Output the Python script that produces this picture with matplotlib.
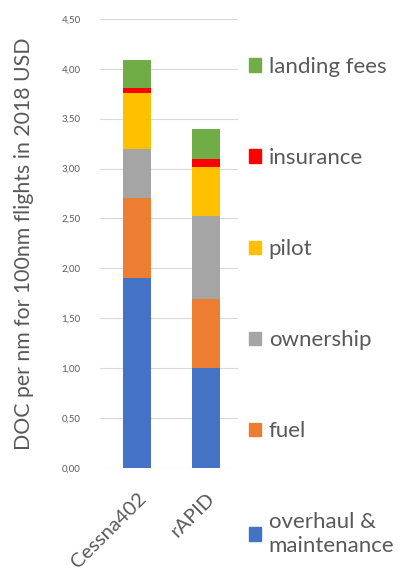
import matplotlib.pyplot as plt
import numpy as np
from matplotlib.patches import Patch
from matplotlib.transforms import ScaledTranslation

plt.rcParams['font.family'] = ['Lato', 'DejaVu Sans']

aircraft = ["Cessna402", "rAPID"]
categories = ["overhaul &\nmaintenance", "fuel", "ownership", "pilot", "insurance", "landing fees"]
overhaul = [1.90, 1.00]
fuel = [0.80, 0.69]
ownership = [0.50, 0.83]
pilot = [0.56, 0.50]
insurance = [0.05, 0.08]
landing = [0.28, 0.30]
colors = ["#4472C4", "#ED7D31", "#A5A5A5", "#FFC000", "#FF0000", "#70AD47"]
yticks = [0, 0.5, 1.0, 1.5, 2.0, 2.5, 3.0, 3.5, 4.0, 4.5]

fig = plt.figure(figsize=(4, 5.72), dpi=100)
ax = fig.add_axes([0.25, 0.182, 0.345, 0.785])

x = np.arange(len(aircraft))
bottom = np.zeros(len(aircraft))
for vals, c in zip([overhaul, fuel, ownership, pilot, insurance, landing], colors):
    ax.bar(x, vals, width=0.41, bottom=bottom, color=c, zorder=3)
    bottom += np.array(vals)

ax.set_ylim(0, 4.5)
ax.set_xlim(-0.54, 1.46)
ax.set_yticks(yticks)
ax.set_yticklabels([f"{v:.2f}".replace(".", ",") for v in yticks], fontsize=7, color="#595959")
ax.set_xticks(x)
ax.set_xticklabels(aircraft, rotation=45, ha="right", rotation_mode="anchor",
                   fontsize=14.5, color="#595959")
# nudge rotated labels a little to the right
for lbl in ax.get_xticklabels():
    lbl.set_transform(lbl.get_transform() + ScaledTranslation(0.03, 0, fig.dpi_scale_trans))
ax.tick_params(axis="y", length=0, pad=14)
ax.tick_params(axis="x", length=0, pad=16)
ax.grid(axis="y", color="#D9D9D9", linewidth=0.8, zorder=0)
for s in ax.spines.values():
    s.set_visible(False)
ax.set_ylabel("DOC per nm for 100nm flights in 2018 USD", fontsize=15.3, color="#595959", labelpad=20)

handles = [Patch(color=c, label=l) for c, l in zip(colors, categories)][::-1]
ax.legend(handles=handles, loc="upper left", bbox_to_anchor=(0.965, 0.95), frameon=False,
          fontsize=16, labelspacing=3.2, handlelength=0.55, handleheight=0.55,
          handletextpad=0.35, labelcolor="#595959", borderaxespad=0.3)

fig.savefig("out.png", dpi=100)
